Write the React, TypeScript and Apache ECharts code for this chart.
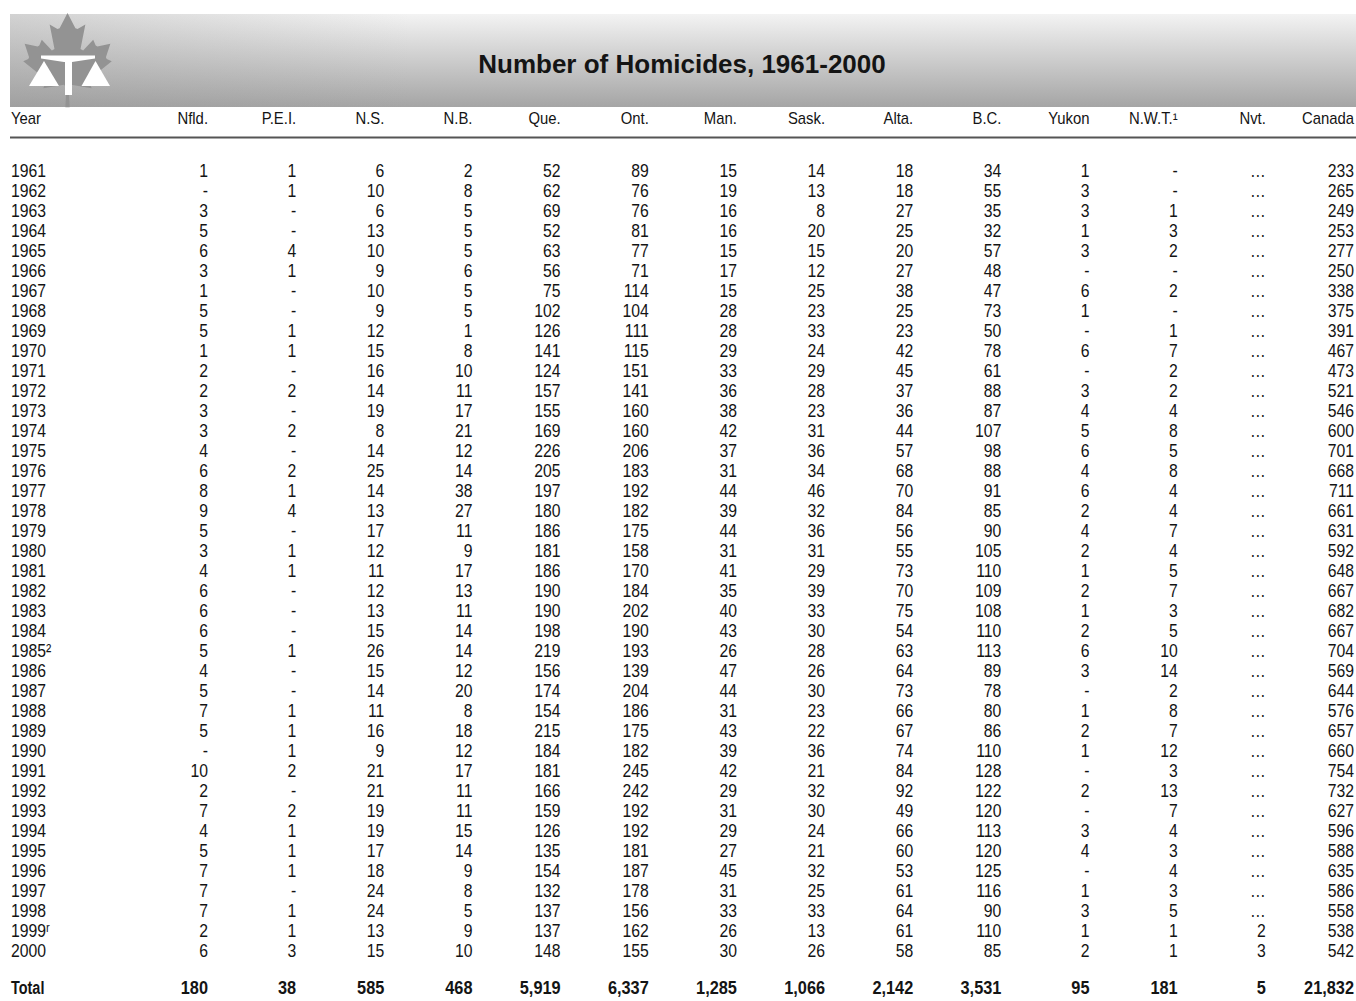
import React, { useEffect, useRef } from "react";
import * as echarts from "echarts";

// ---------- DATA ----------
const title = "Number of Homicides, 1961-2000";
const yearHeader = "Year";
const columns = ["Nfld.", "P.E.I.", "N.S.", "N.B.", "Que.", "Ont.", "Man.", "Sask.", "Alta.", "B.C.", "Yukon", "N.W.T.\u00B9", "Nvt.", "Canada"];
const years = [
  "1961", "1962", "1963", "1964", "1965", "1966", "1967", "1968", "1969", "1970",
  "1971", "1972", "1973", "1974", "1975", "1976", "1977", "1978", "1979", "1980",
  "1981", "1982", "1983", "1984", "1985\u00B2", "1986", "1987", "1988", "1989", "1990",
  "1991", "1992", "1993", "1994", "1995", "1996", "1997", "1998", "1999\u02B3", "2000",
];
// 0 is printed as "-", null as "…" (not available)
const nfld = [1, 0, 3, 5, 6, 3, 1, 5, 5, 1, 2, 2, 3, 3, 4, 6, 8, 9, 5, 3, 4, 6, 6, 6, 5, 4, 5, 7, 5, 0, 10, 2, 7, 4, 5, 7, 7, 7, 2, 6];
const pei = [1, 1, 0, 0, 4, 1, 0, 0, 1, 1, 0, 2, 0, 2, 0, 2, 1, 4, 0, 1, 1, 0, 0, 0, 1, 0, 0, 1, 1, 1, 2, 0, 2, 1, 1, 1, 0, 1, 1, 3];
const ns = [6, 10, 6, 13, 10, 9, 10, 9, 12, 15, 16, 14, 19, 8, 14, 25, 14, 13, 17, 12, 11, 12, 13, 15, 26, 15, 14, 11, 16, 9, 21, 21, 19, 19, 17, 18, 24, 24, 13, 15];
const nb = [2, 8, 5, 5, 5, 6, 5, 5, 1, 8, 10, 11, 17, 21, 12, 14, 38, 27, 11, 9, 17, 13, 11, 14, 14, 12, 20, 8, 18, 12, 17, 11, 11, 15, 14, 9, 8, 5, 9, 10];
const que = [52, 62, 69, 52, 63, 56, 75, 102, 126, 141, 124, 157, 155, 169, 226, 205, 197, 180, 186, 181, 186, 190, 190, 198, 219, 156, 174, 154, 215, 184, 181, 166, 159, 126, 135, 154, 132, 137, 137, 148];
const ont = [89, 76, 76, 81, 77, 71, 114, 104, 111, 115, 151, 141, 160, 160, 206, 183, 192, 182, 175, 158, 170, 184, 202, 190, 193, 139, 204, 186, 175, 182, 245, 242, 192, 192, 181, 187, 178, 156, 162, 155];
const man = [15, 19, 16, 16, 15, 17, 15, 28, 28, 29, 33, 36, 38, 42, 37, 31, 44, 39, 44, 31, 41, 35, 40, 43, 26, 47, 44, 31, 43, 39, 42, 29, 31, 29, 27, 45, 31, 33, 26, 30];
const sask = [14, 13, 8, 20, 15, 12, 25, 23, 33, 24, 29, 28, 23, 31, 36, 34, 46, 32, 36, 31, 29, 39, 33, 30, 28, 26, 30, 23, 22, 36, 21, 32, 30, 24, 21, 32, 25, 33, 13, 26];
const alta = [18, 18, 27, 25, 20, 27, 38, 25, 23, 42, 45, 37, 36, 44, 57, 68, 70, 84, 56, 55, 73, 70, 75, 54, 63, 64, 73, 66, 67, 74, 84, 92, 49, 66, 60, 53, 61, 64, 61, 58];
const bc = [34, 55, 35, 32, 57, 48, 47, 73, 50, 78, 61, 88, 87, 107, 98, 88, 91, 85, 90, 105, 110, 109, 108, 110, 113, 89, 78, 80, 86, 110, 128, 122, 120, 113, 120, 125, 116, 90, 110, 85];
const yukon = [1, 3, 3, 1, 3, 0, 6, 1, 0, 6, 0, 3, 4, 5, 6, 4, 6, 2, 4, 2, 1, 2, 1, 2, 6, 3, 0, 1, 2, 1, 0, 2, 0, 3, 4, 0, 1, 3, 1, 2];
const nwt = [0, 0, 1, 3, 2, 0, 2, 0, 1, 7, 2, 2, 4, 8, 5, 8, 4, 4, 7, 4, 5, 7, 3, 5, 10, 14, 2, 8, 7, 12, 3, 13, 7, 4, 3, 4, 3, 5, 1, 1];
const nvt = [null, null, null, null, null, null, null, null, null, null, null, null, null, null, null, null, null, null, null, null, null, null, null, null, null, null, null, null, null, null, null, null, null, null, null, null, null, null, 2, 3];
const canada = [233, 265, 249, 253, 277, 250, 338, 375, 391, 467, 473, 521, 546, 600, 701, 668, 711, 661, 631, 592, 648, 667, 682, 667, 704, 569, 644, 576, 657, 660, 754, 732, 627, 596, 588, 635, 586, 558, 538, 542];
const totalLabel = "Total";
const totals = [180, 38, 585, 468, 5919, 6337, 1285, 1066, 2142, 3531, 95, 181, 5, 21832];

const seriesColumns = [nfld, pei, ns, nb, que, ont, man, sask, alta, bc, yukon, nwt, nvt, canada];

// ---------- LAYOUT (table coordinates: x = column index, y = row index) ----------
const YEAR_COL = -2.235;
const HEADER_ROW = -2.6;
const TOTAL_ROW = 40.9;
const FONT = "'Liberation Sans', Arial, Helvetica, sans-serif";
const INK = "#141414";

function fmt(v: number | null): string {
  if (v === null) return "\u2026";
  if (v === 0) return "-";
  return v.toLocaleString("en-US");
}

type Cell = { value: [number, number]; text: string; align: string; size: number; sx: number; bold: boolean };

function buildCells(): Cell[] {
  const cells: Cell[] = [];
  cells.push({ value: [YEAR_COL, HEADER_ROW], text: yearHeader, align: "left", size: 16, sx: 0.93, bold: false });
  columns.forEach((c, i) => cells.push({ value: [i, HEADER_ROW], text: c, align: "right", size: 16, sx: 0.93, bold: false }));
  years.forEach((y, r) => {
    cells.push({ value: [YEAR_COL, r], text: y, align: "left", size: 19, sx: 0.83, bold: false });
    seriesColumns.forEach((col, i) => {
      cells.push({ value: [i, r], text: fmt(col[r]), align: "right", size: 19, sx: 0.83, bold: false });
    });
  });
  cells.push({ value: [YEAR_COL, TOTAL_ROW], text: totalLabel, align: "left", size: 19, sx: 0.76, bold: true });
  totals.forEach((t, i) => cells.push({ value: [i, TOTAL_ROW], text: fmt(t), align: "right", size: 19, sx: 0.86, bold: true }));
  return cells;
}

// maple leaf outline (shape units), left half from stem to top point
const LEAF_LEFT: [number, number][] = [
  [-90, 2030], [-45, 1167], [-156, 1069], [-1015, 1220], [-899, 900], [-919, 827], [-1860, 65],
  [-1648, -34], [-1614, -113], [-1800, -685], [-1258, -570], [-1185, -608], [-1080, -855],
  [-657, -401], [-546, -458], [-750, -1510], [-423, -1321], [-332, -1348], [0, -2000],
];

function leafPoints(cx: number, top: number, sx: number, sy: number): number[][] {
  const left = LEAF_LEFT.map(([x, y]) => [cx + x * sx, top + (y + 2000) * sy]);
  const right = LEAF_LEFT.slice(0, -1).reverse().map(([x, y]) => [cx - x * sx, top + (y + 2000) * sy]);
  return [...left, ...right];
}

export default function App() {
  const ref = useRef<HTMLDivElement>(null);
  useEffect(() => {
    if (!ref.current) return;
    const chart = echarts.init(ref.current, undefined, { renderer: "svg" });
    const cells = buildCells();
    const option: any = {
      animation: false,
      backgroundColor: "#ffffff",
      grid: { left: 11, right: 2, top: 118, bottom: 13 },
      xAxis: { type: "value", min: YEAR_COL, max: 13, show: false },
      yAxis: { type: "value", min: HEADER_ROW, max: TOTAL_ROW, inverse: true, show: false },
      tooltip: { show: false },
      series: [
        {
          type: "custom",
          silent: true,
          data: cells.map((c) => c.value),
          renderItem: (params: any, api: any) => {
            const c = cells[params.dataIndex];
            const p = api.coord([api.value(0), api.value(1)]);
            return {
              type: "text",
              x: p[0],
              y: p[1],
              scaleX: c.sx,
              style: {
                text: c.text,
                x: 0,
                y: 0,
                align: c.align,
                verticalAlign: "middle",
                fontSize: c.size,
                fontFamily: FONT,
                fontWeight: c.bold ? "bold" : "normal",
                fill: INK,
              },
            };
          },
        },
      ],
      graphic: [
        {
          type: "rect",
          shape: { x: 10, y: 14, width: 1346, height: 93 },
          style: {
            fill: new echarts.graphic.LinearGradient(0, 0, 0, 1, [
              { offset: 0, color: "#f3f3f3" },
              { offset: 1, color: "#a5a5a5" },
            ]),
          },
          silent: true,
        },
        {
          type: "rect",
          shape: { x: 10, y: 14, width: 400, height: 93 },
          style: {
            fill: new echarts.graphic.LinearGradient(0, 0, 1, 0, [
              { offset: 0, color: "rgba(150,150,150,0.35)" },
              { offset: 1, color: "rgba(150,150,150,0)" },
            ]),
          },
          silent: true,
        },
        {
          type: "polygon",
          shape: { points: leafPoints(67.5, 13, 0.0238, 0.0234) },
          style: { fill: "#939393" },
          silent: true,
        },
        {
          type: "polygon",
          shape: { points: [[41, 55.5], [95, 55.5], [95, 58.5], [72, 62], [64, 62], [41, 58.5]] },
          style: { fill: "#ffffff" },
          silent: true,
        },
        { type: "rect", shape: { x: 65, y: 61.5, width: 7, height: 33.5 }, style: { fill: "#ffffff" }, silent: true },
        { type: "polygon", shape: { points: [[29, 86], [44, 61], [59, 86]] }, style: { fill: "#ffffff" }, silent: true },
        { type: "polygon", shape: { points: [[81.5, 86], [95.5, 61], [110, 86]] }, style: { fill: "#ffffff" }, silent: true },
        {
          type: "text",
          x: 682,
          y: 64,
          style: {
            text: title,
            align: "center",
            verticalAlign: "middle",
            fontSize: 26,
            fontWeight: "bold",
            fontFamily: FONT,
            fill: INK,
          },
          silent: true,
        },
        {
          type: "line",
          shape: { x1: 10, y1: 137.5, x2: 1356, y2: 137.5 },
          style: { stroke: "#555555", lineWidth: 2 },
          silent: true,
        },
      ],
    };
    chart.setOption(option);
    return () => chart.dispose();
  }, []);
  return (
    <div style={{ position: "fixed", left: 0, top: 0, width: "1356px", height: "1001px", background: "#fff" }}>
      <div ref={ref} style={{ width: "1356px", height: "1001px" }} />
    </div>
  );
}
